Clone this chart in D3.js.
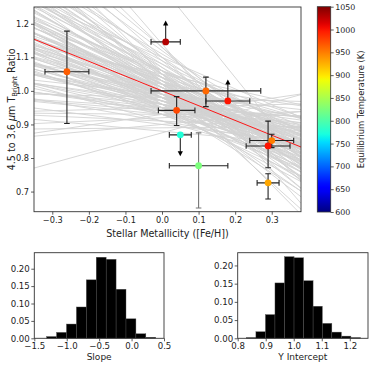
<!DOCTYPE html>
<html>
<head>
<meta charset="utf-8">
<script src="https://cdn.jsdelivr.net/npm/d3@7"></script>
<style>
  body { margin: 0; background: #fff; }
  svg { display: block; font-family: "DejaVu Sans", sans-serif; }
</style>
</head>
<body>
<svg id="chart" width="374" height="366"></svg>
<script>
// planets: metallicity, brightness temp ratio, errors, limits, Teq
const metallicity = [-0.26, 0.01, 0.04, 0.12, 0.18, 0.05, 0.10, 0.30, 0.29, 0.29];
const ratio       = [1.057, 1.146, 0.942, 1.000, 0.970, 0.869, 0.777, 0.852, 0.836, 0.726];
const metErr      = [0.06, 0.04, 0.05, 0.15, 0.06, 0.03, 0.08, 0.06, 0.06, 0.03];
const ratioErrLo  = [0.154, 0, 0.045, 0.047, 0, 0, 0.126, 0.021, 0.065, 0.048];
const ratioErrHi  = [0.121, 0, 0.041, 0.041, 0, 0, 0.098, 0.019, 0.074, 0.027];
const limitDir    = [0, 1, 0, 0, 1, -1, 0, 0, 0, 0];   // 1 = lower limit (arrow up), -1 = upper limit
const teq         = [965, 1030, 975, 960, 1000, 775, 825, 950, 1000, 930];

// best fit line
const bestSlope = -0.44;
const bestIntercept = 1.0;

// posterior draws (slope, intercept) plotted as grey lines
const sampleSlopes = [
  -1.25, -1.10, -1.05, -0.98, -0.95, -0.92, -0.90, -0.87,
  -0.84, -0.83, -0.81, -0.80, -0.78, -0.77, -0.76, -0.75, -0.73, -0.72, -0.70,
  -0.69, -0.68, -0.67, -0.66, -0.65, -0.64, -0.64, -0.63, -0.62, -0.61, -0.61, -0.60, -0.59, -0.58, -0.58, -0.57, -0.56, -0.56, -0.55, -0.55,
  -0.54, -0.54, -0.53, -0.53, -0.52, -0.52, -0.51, -0.51, -0.50, -0.50, -0.49, -0.49, -0.48, -0.48, -0.47, -0.47, -0.46, -0.46, -0.45, -0.45, -0.44, -0.44, -0.43, -0.43, -0.42, -0.42, -0.41, -0.40,
  -0.39, -0.39, -0.38, -0.38, -0.37, -0.37, -0.36, -0.36, -0.35, -0.35, -0.34, -0.33, -0.33, -0.32, -0.32, -0.31, -0.30, -0.30, -0.29, -0.29, -0.28, -0.27, -0.27, -0.26, -0.25, -0.25, -0.24,
  -0.23, -0.22, -0.21, -0.20, -0.20, -0.19, -0.18, -0.17, -0.16, -0.15, -0.14, -0.13, -0.12, -0.11, -0.10, -0.10, -0.09,
  -0.07, -0.05, -0.03, -0.01, 0.01, 0.03, 0.05,
  0.10, 0.16, 0.30, -1.35
];
const sampleIntercepts = [
  1.14, 1.05, 1.13, 1.02, 1.10, 1.06, 1.13, 1.04,
  1.09, 1.00, 1.05, 1.12, 1.03, 1.07, 0.99, 1.05, 1.10, 1.02, 1.06,
  1.03, 0.96, 1.08, 1.01, 1.05, 0.98, 1.11, 1.02, 1.04, 0.99, 1.07, 1.01, 1.03, 0.95, 1.06, 1.00, 1.02, 1.09, 0.98, 1.04,
  1.00, 1.06, 0.96, 1.02, 0.99, 1.08, 1.01, 0.94, 1.03, 0.98, 1.05, 1.00, 0.97, 1.02, 1.10, 0.99, 1.01, 0.95, 1.04, 1.00, 0.97, 1.02, 1.06, 0.99, 0.93, 1.01, 0.98, 1.03,
  0.99, 0.95, 1.03, 0.98, 1.00, 0.93, 0.97, 1.06, 0.99, 0.96, 1.01, 0.94, 0.98, 1.04, 0.97, 0.99, 0.91, 0.96, 1.00, 0.98, 0.95, 1.02, 0.97, 0.93, 0.99, 0.96, 1.05,
  0.97, 0.93, 1.00, 0.95, 0.98, 0.91, 0.96, 1.02, 0.94, 0.97, 0.90, 0.95, 0.99, 0.93, 0.96, 0.88, 0.94,
  0.95, 0.91, 0.98, 0.93, 0.89, 0.95, 0.92,
  0.90, 0.93, 0.875, 1.31
];

// histograms (fraction of draws)
const slopeEdges = [-1.31, -1.157, -1.004, -0.851, -0.698, -0.545, -0.392, -0.239, -0.086, 0.067, 0.22, 0.373];
const slopeFreq  = [0.005, 0.017, 0.041, 0.090, 0.168, 0.233, 0.227, 0.141, 0.056, 0.013, 0.003];
const interceptEdges = [0.831, 0.865, 0.899, 0.933, 0.967, 1.001, 1.035, 1.069, 1.102, 1.136, 1.170, 1.204, 1.238];
const interceptFreq  = [0.002, 0.018, 0.065, 0.152, 0.224, 0.221, 0.158, 0.088, 0.041, 0.017, 0.006, 0.002];

const xTicks = [-0.3, -0.2, -0.1, 0.0, 0.1, 0.2, 0.3];
const yTicks = [0.7, 0.8, 0.9, 1.0, 1.1, 1.2];
const cbTicks = [600, 650, 700, 750, 800, 850, 900, 950, 1000, 1050];
const histYTicks = [0.00, 0.05, 0.10, 0.15, 0.20];
const slopeTicks = [-1.5, -1.0, -0.5, 0.0, 0.5];
const interceptTicks = [0.8, 0.9, 1.0, 1.1, 1.2];

const svg = d3.select("#chart");
const spine = "#333";

// matplotlib "jet"
const jetR = d3.scaleLinear().domain([0, 0.35, 0.66, 0.89, 1]).range([0, 0, 1, 1, 0.5]).clamp(true);
const jetG = d3.scaleLinear().domain([0, 0.125, 0.375, 0.64, 0.91, 1]).range([0, 0, 1, 1, 0, 0]).clamp(true);
const jetB = d3.scaleLinear().domain([0, 0.11, 0.34, 0.65, 1]).range([0.5, 1, 1, 0, 0]).clamp(true);
const tNorm = d3.scaleLinear().domain([600, 1050]).range([0, 1]).clamp(true);
function jet(t) {
  return d3.rgb(jetR(t) * 255, jetG(t) * 255, jetB(t) * 255).formatHex();
}
const colorOf = T => jet(tNorm(T));

function styleAxis(g, size) {
  g.selectAll(".domain").remove();
  g.selectAll(".tick line").attr("stroke", spine).attr("stroke-width", 0.8);
  g.selectAll(".tick text").attr("fill", "#222").attr("font-size", size).attr("font-family", "DejaVu Sans");
}

// ---------- main panel ----------
const main = {left: 34, right: 301, top: 7, bottom: 211.7};
const x = d3.scaleLinear().domain([-0.35, 0.38]).range([main.left, main.right]);
const y = d3.scaleLinear().domain([0.64, 1.25]).range([main.bottom, main.top]);

svg.append("clipPath").attr("id", "clipMain")
  .append("rect")
  .attr("x", main.left).attr("y", main.top)
  .attr("width", main.right - main.left).attr("height", main.bottom - main.top);

const plot = svg.append("g").attr("clip-path", "url(#clipMain)");
const xd = x.domain();

plot.append("g")
  .selectAll("line")
  .data(sampleSlopes.map((s, i) => ({s: s, b: sampleIntercepts[i]})))
  .join("line")
  .attr("x1", x(xd[0])).attr("x2", x(xd[1]))
  .attr("y1", d => y(d.b + d.s * xd[0]))
  .attr("y2", d => y(d.b + d.s * xd[1]))
  .attr("stroke", "#d3d3d3")
  .attr("stroke-width", 0.9);

plot.append("line")
  .attr("x1", x(xd[0])).attr("x2", x(xd[1]))
  .attr("y1", y(bestIntercept + bestSlope * xd[0]))
  .attr("y2", y(bestIntercept + bestSlope * xd[1]))
  .attr("stroke", "#ff0000")
  .attr("stroke-width", 0.9);

const pts = metallicity.map((m, i) => ({
  m: m, r: ratio[i], xe: metErr[i], lo: ratioErrLo[i], hi: ratioErrHi[i], lim: limitDir[i], T: teq[i]
}));

const cap = 2.8;
const eb = plot.append("g");
pts.forEach((d, i) => {
  const col = i === 6 ? "#777" : "#222";
  const g = eb.append("g").attr("stroke", "#222").attr("stroke-width", 1.1);
  // horizontal
  g.append("line").attr("x1", x(d.m - d.xe)).attr("x2", x(d.m + d.xe)).attr("y1", y(d.r)).attr("y2", y(d.r));
  [d.m - d.xe, d.m + d.xe].forEach(v =>
    g.append("line").attr("x1", x(v)).attr("x2", x(v)).attr("y1", y(d.r) - cap).attr("y2", y(d.r) + cap));
  if (d.lim === 0) {
    const gv = eb.append("g").attr("stroke", col).attr("stroke-width", 1.1);
    gv.append("line").attr("x1", x(d.m)).attr("x2", x(d.m)).attr("y1", y(d.r - d.lo)).attr("y2", y(d.r + d.hi));
    [d.r - d.lo, d.r + d.hi].forEach(v =>
      gv.append("line").attr("x1", x(d.m) - cap).attr("x2", x(d.m) + cap).attr("y1", y(v)).attr("y2", y(v)));
  } else {
    // limit arrow
    const tip = y(d.r + d.lim * 0.064);
    const dir = d.lim;
    g.append("line").attr("x1", x(d.m)).attr("x2", x(d.m)).attr("y1", y(d.r)).attr("y2", tip + dir * 4);
    eb.append("path")
      .attr("d", `M${x(d.m)},${tip} L${x(d.m) - 2.6},${tip + dir * 5} L${x(d.m) + 2.6},${tip + dir * 5} Z`)
      .attr("fill", "#000");
  }
});

plot.append("g")
  .selectAll("circle")
  .data(pts)
  .join("circle")
  .attr("cx", d => x(d.m))
  .attr("cy", d => y(d.r))
  .attr("r", 3.4)
  .attr("fill", d => colorOf(d.T));

svg.append("rect")
  .attr("x", main.left).attr("y", main.top)
  .attr("width", main.right - main.left).attr("height", main.bottom - main.top)
  .attr("fill", "none").attr("stroke", spine).attr("stroke-width", 0.9);

svg.append("g")
  .attr("transform", `translate(0,${main.bottom})`)
  .call(d3.axisBottom(x).tickValues(xTicks).tickFormat(d3.format(".1f")).tickSize(3).tickPadding(2))
  .call(g => styleAxis(g, 8.2));

svg.append("g")
  .attr("transform", `translate(${main.left},0)`)
  .call(d3.axisLeft(y).tickValues(yTicks).tickFormat(d3.format(".1f")).tickSize(3).tickPadding(2))
  .call(g => styleAxis(g, 8.2));

svg.append("text")
  .attr("x", (main.left + main.right) / 2).attr("y", 237)
  .attr("text-anchor", "middle").attr("font-size", 9.6).attr("fill", "#222")
  .text("Stellar Metallicity ([Fe/H])");

const yl = svg.append("text")
  .attr("transform", `translate(15,${(main.top + main.bottom) / 2}) rotate(-90)`)
  .attr("text-anchor", "middle").attr("font-size", 9.6).attr("fill", "#222");
yl.append("tspan").text("4.5 to 3.6 ");
yl.append("tspan").attr("font-style", "italic").text("μ");
yl.append("tspan").text("m T");
yl.append("tspan").attr("font-size", 6.8).attr("dy", 2).text("Bright");
yl.append("tspan").attr("dy", -2).text(" Ratio");

// ---------- colorbar ----------
const cb = {left: 317.3, right: 330.7, top: 6.7, bottom: 212};
const cy = d3.scaleLinear().domain([600, 1050]).range([cb.bottom, cb.top]);
const grad = svg.append("defs").append("linearGradient")
  .attr("id", "jetGrad").attr("x1", 0).attr("y1", 1).attr("x2", 0).attr("y2", 0);
d3.range(0, 1.0001, 0.02).forEach(t =>
  grad.append("stop").attr("offset", t).attr("stop-color", jet(t)));
svg.append("rect")
  .attr("x", cb.left).attr("y", cb.top)
  .attr("width", cb.right - cb.left).attr("height", cb.bottom - cb.top)
  .attr("fill", "url(#jetGrad)").attr("stroke", spine).attr("stroke-width", 0.8);
svg.append("g")
  .attr("transform", `translate(${cb.right},0)`)
  .call(d3.axisRight(cy).tickValues(cbTicks).tickFormat(d3.format("d")).tickSize(3).tickPadding(1.5))
  .call(g => styleAxis(g, 7.9));
svg.append("text")
  .attr("transform", `translate(364,${(cb.top + cb.bottom) / 2}) rotate(-90)`)
  .attr("text-anchor", "middle").attr("font-size", 8.4).attr("fill", "#222")
  .text("Equilibrium Temperature (K)");

// ---------- histograms ----------
function histogram(box, xDomain, yMax, edges, freq, xt, label) {
  const hx = d3.scaleLinear().domain(xDomain).range([box.left, box.right]);
  const hy = d3.scaleLinear().domain([0, yMax]).range([box.bottom, box.top]);
  svg.append("g")
    .selectAll("rect")
    .data(freq)
    .join("rect")
    .attr("x", (f, i) => hx(edges[i]))
    .attr("width", (f, i) => hx(edges[i + 1]) - hx(edges[i]))
    .attr("y", f => hy(f))
    .attr("height", f => hy(0) - hy(f))
    .attr("fill", "#000")
    .attr("stroke", "#555").attr("stroke-width", 0.4);
  svg.append("rect")
    .attr("x", box.left).attr("y", box.top)
    .attr("width", box.right - box.left).attr("height", box.bottom - box.top)
    .attr("fill", "none").attr("stroke", spine).attr("stroke-width", 0.9);
  svg.append("g")
    .attr("transform", `translate(0,${box.bottom})`)
    .call(d3.axisBottom(hx).tickValues(xt).tickFormat(d3.format(".1f")).tickSize(3).tickPadding(1.5))
    .call(g => styleAxis(g, 8.6));
  svg.append("g")
    .attr("transform", `translate(${box.left},0)`)
    .call(d3.axisLeft(hy).tickValues(histYTicks).tickFormat(d3.format(".2f")).tickSize(3).tickPadding(1.5))
    .call(g => styleAxis(g, 8.6));
  svg.append("text")
    .attr("x", (box.left + box.right) / 2).attr("y", box.bottom + 22)
    .attr("text-anchor", "middle").attr("font-size", 9).attr("fill", "#222")
    .text(label);
}

histogram({left: 34.3, right: 164, top: 252.7, bottom: 338.3}, [-1.5, 0.5], 0.246,
  slopeEdges, slopeFreq, slopeTicks, "Slope");
histogram({left: 237.7, right: 368, top: 252.7, bottom: 338.3}, [0.8, 1.265], 0.235,
  interceptEdges, interceptFreq, interceptTicks, "Y Intercept");
</script>
</body>
</html>
